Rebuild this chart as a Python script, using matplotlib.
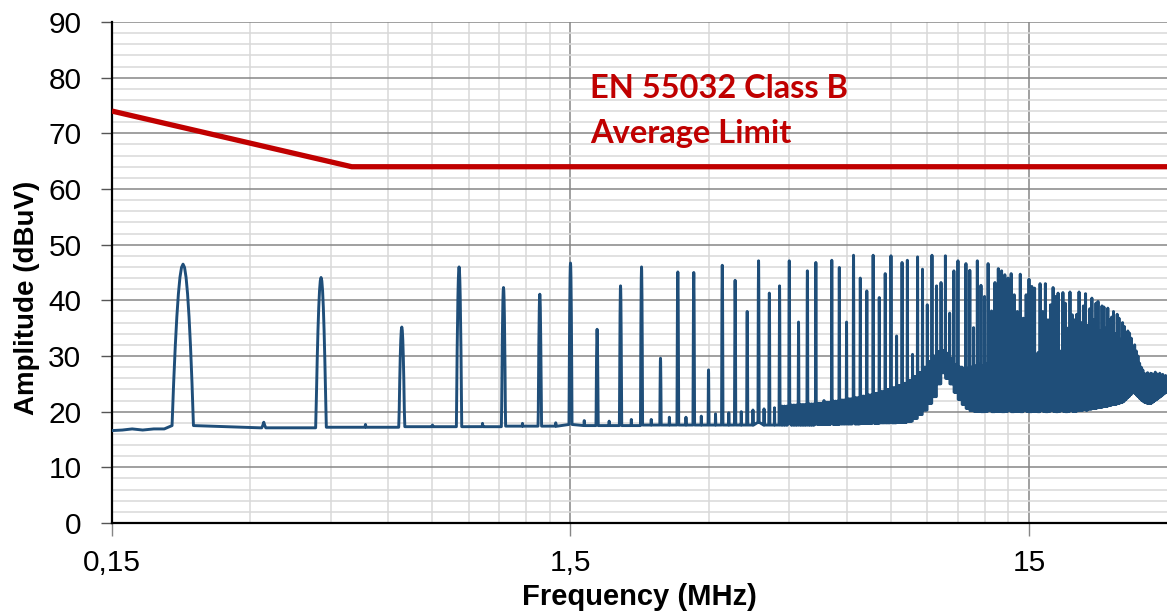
import numpy as np
import matplotlib
matplotlib.use("Agg")
import matplotlib.pyplot as plt
from matplotlib.ticker import FixedLocator, FixedFormatter, NullFormatter

# ---------------- data ----------------
fundamental_mhz = 0.2143          # harmonic spacing of the spectrum (MHz)

# peak amplitude of harmonic n = 1..140 (dBuV)
harmonic_amp = [
    46.5, 44.1, 35.2, 46.0, 42.3, 41.1, 46.7, 34.8, 42.6, 46.0,
    29.6, 45.1, 45.0, 27.5, 46.3, 43.6, 38.0, 47.1, 41.3, 42.6,
    47.1, 36.1, 45.3, 46.8, 22.0, 47.2, 45.9, 36.1, 48.1, 44.0,
    41.7, 48.1, 40.5, 44.8, 48.0, 33.6, 46.8, 47.2, 30.3, 47.8,
    45.6, 39.2, 48.1, 42.6, 43.2, 48.0, 37.7, 45.3, 47.1, 28.0,
    46.6, 45.4, 35.1, 47.1, 42.7, 40.7, 46.6, 38.1, 43.2, 45.7,
    45.3, 44.6, 44.0, 44.8, 41.0, 38.0, 44.7, 36.8, 41.0, 43.8,
    42.5, 42.2, 29.6, 43.0, 38.0, 43.0, 36.5, 39.2, 42.3, 40.7,
    41.3, 27.2, 41.4, 39.5, 35.0, 41.5, 37.4, 36.5, 37.5, 41.5,
    36.0, 39.0, 41.2, 35.5, 38.5, 40.4, 36.5, 39.5, 39.8, 34.5,
    39.0, 38.8, 35.0, 38.6, 36.5, 37.0, 38.0, 34.0, 37.5, 36.8,
    33.0, 36.0, 35.3, 32.5, 34.5, 34.1, 33.2, 31.5, 32.0, 30.9,
    30.0, 28.7, 28.0, 27.5, 26.5, 26.8, 27.0, 26.5, 26.9, 26.8,
    26.4, 27.1, 26.8, 26.5, 26.9, 26.4, 26.7, 26.3, 26.5, 26.0,
]

# level of the smaller lines between harmonic n and n+1 (dBuV)
interharmonic_amp = [
    18.1, 17.7, 17.6, 17.9, 17.9, 18.0, 18.4, 18.3, 18.6, 18.6,
    19.0, 19.0, 19.2, 19.6, 19.8, 20.0, 20.3, 20.5, 20.7, 21.0,
    21.2, 21.3, 21.4, 21.5, 21.7, 21.9, 22.1, 22.3, 22.5, 22.8,
    23.0, 23.3, 23.6, 24.0, 24.3, 24.7, 25.1, 25.6, 26.3, 27.0,
    28.0, 29.0, 30.0, 30.8, 31.0, 30.5, 29.5, 28.5, 28.0, 27.8,
    27.8, 28.0, 28.2, 28.5, 28.3, 28.6, 28.8, 28.5, 29.0, 29.2,
    29.0, 29.5, 29.3, 29.8, 30.0, 29.6, 30.2, 30.0, 30.4, 30.2,
    30.5, 30.3, 30.6, 30.4, 30.8, 30.5, 30.7, 30.9, 30.6, 30.8,
    30.6, 30.9, 30.7, 30.5, 30.8, 30.6, 30.4, 30.7, 30.5, 30.3,
    30.4, 30.2, 30.0, 30.1, 29.8, 29.9, 29.6, 29.7, 29.4, 29.5,
    29.2, 29.3, 29.0, 29.1, 28.8, 28.9, 28.6, 28.7, 28.4, 28.5,
    28.2, 28.3, 28.0, 28.0, 27.8, 27.8, 27.6, 27.5, 27.3, 27.2,
    27.0, 27.0, 26.8, 26.8, 26.6, 26.6, 26.5, 26.5, 26.4, 26.4,
    26.3, 26.3, 26.2, 26.2, 26.1, 26.1, 26.0, 26.0, 26.0, 26.0,
]

# noise floor between harmonic n and n+1 (dBuV)
floor_amp = [
    17.1, 17.2, 17.3, 17.3, 17.4, 17.4, 17.5, 17.5, 17.5, 17.6,
    17.6, 17.6, 17.6, 17.6, 17.6, 17.6, 17.6, 17.6, 17.6, 17.6,
    17.6, 17.6, 17.6, 17.7, 17.7, 17.7, 17.8, 17.8, 17.8, 17.9,
    17.9, 17.9, 18.0, 18.0, 18.0, 18.1, 18.1, 18.3, 18.8, 19.5,
    20.3, 21.5, 22.7, 25.0, 27.0, 26.0, 25.0, 23.5, 22.2, 21.3,
    20.6, 20.2, 20.1, 20.1, 20.0, 20.1, 20.2, 20.0, 20.1, 20.1,
    20.0, 20.1, 20.2, 20.0, 20.1, 20.1, 20.0, 20.2, 20.1, 20.0,
    20.1, 20.1, 20.0, 20.2, 20.1, 20.0, 20.1, 20.2, 20.1, 20.0,
    20.1, 20.2, 20.1, 20.0, 20.1, 20.2, 20.1, 20.1, 20.2, 20.3,
    20.3, 20.4, 20.3, 20.5, 20.5, 20.6, 20.6, 20.7, 20.8, 20.8,
    20.9, 21.0, 21.0, 21.1, 21.2, 21.3, 21.3, 21.4, 21.5, 21.6,
    21.7, 21.9, 22.2, 22.5, 22.8, 23.1, 23.5, 23.6, 23.3, 23.0,
    22.7, 22.4, 22.1, 21.9, 21.7, 21.6, 21.5, 21.5, 21.6, 21.8,
    22.0, 22.2, 22.4, 22.6, 22.8, 23.0, 23.2, 23.4, 23.5, 23.6,
]

# trace below the first harmonic
lead_freq = [0.150, 0.158, 0.166, 0.175, 0.185, 0.195]
lead_amp = [16.6, 16.7, 16.9, 16.7, 16.9, 16.9]

# EN 55032 Class B average limit
limit_freq = [0.15, 0.5, 30.0]
limit_amp = [74.0, 64.0, 64.0]

x_ticks = [0.15, 1.5, 15]
x_ticklabels = ["0,15", "1,5", "15"]
y_ticks = list(range(0, 91, 10))

# ---------------- build spectrum trace ----------------
PEAK_HALF = 0.0115            # MHz, half width of a line at ~29 dB down (RBW shape)
CURV = 29.0 / PEAK_HALF ** 2
shape = np.linspace(-PEAK_HALF, PEAK_HALF, 15)

fx, fy = list(lead_freq), list(lead_amp)
nh = len(harmonic_amp)
for i in range(nh):
    n = i + 1
    fn = n * fundamental_mhz
    left_floor = floor_amp[i - 1] if i > 0 else lead_amp[-1]
    right_floor = floor_amp[i]
    for d in shape:
        base = left_floor if d < 0 else right_floor
        fx.append(fn + d)
        fy.append(max(base, harmonic_amp[i] - CURV * d * d))
    # lines between harmonics
    subs = [0.5] if n < 20 else [0.25, 0.5, 0.75]
    for s in subs:
        fm = (n + s) * fundamental_mhz
        for d in shape:
            fx.append(fm + d)
            fy.append(max(right_floor, interharmonic_amp[i] - CURV * d * d))

fx = np.array(fx)
fy = np.array(fy)

# ---------------- plot ----------------
plt.rcParams["font.family"] = ["Liberation Sans", "DejaVu Sans"]
fig = plt.figure(figsize=(11.67, 6.12), dpi=100)
ax = fig.add_axes([112 / 1167, 1 - 523 / 612, 1 - 112 / 1167, (523 - 22) / 612])

ax.set_xscale("log")
ax.set_xlim(0.15, 30.0)
ax.set_ylim(0, 90)

# grid
minor_x = [k * d for d in (0.15, 1.5, 15) for k in range(2, 10) if k * d < 30.0]
ax.xaxis.set_major_locator(FixedLocator(x_ticks))
ax.xaxis.set_major_formatter(FixedFormatter(x_ticklabels))
ax.xaxis.set_minor_locator(FixedLocator(minor_x))
ax.xaxis.set_minor_formatter(NullFormatter())
ax.yaxis.set_major_locator(FixedLocator(y_ticks))
ax.yaxis.set_minor_locator(FixedLocator(list(range(0, 91, 2))))

ax.grid(which="minor", color="#d9d9d9", linewidth=1.1)
ax.grid(which="major", color="#868686", linewidth=1.1)
ax.set_axisbelow(True)

ax.tick_params(axis="x", which="major", direction="out", length=9, width=1.0,
               color="#868686", labelsize=21.5, pad=10)
ax.tick_params(axis="y", which="major", direction="out", length=8, width=1.0,
               color="#555555", labelsize=21.5, pad=14)
ax.tick_params(which="minor", length=0)

for s in ("top", "right"):
    ax.spines[s].set_visible(False)
for s in ("left", "bottom"):
    ax.spines[s].set_color("black")
    ax.spines[s].set_linewidth(1.6)

ax.plot(limit_freq, limit_amp, color="#c00000", linewidth=3.8,
        solid_capstyle="butt", zorder=3)
ax.plot(fx, fy, color="#1f4e79", linewidth=2.1, solid_joinstyle="round",
        zorder=4, clip_on=True)

ax.set_xlabel("Frequency (MHz)", fontsize=21, fontweight="bold", labelpad=4)
ax.set_ylabel("Amplitude (dBuV)", fontsize=20, fontweight="bold")
ax.yaxis.set_label_coords((40 - 112) / 1055, (523 - 298) / 501)

fig.text(590 / 1167, 1 - 98 / 612, "EN 55032 Class B", color="#c00000",
         fontsize=23.5, fontweight="bold", family="Lato", va="baseline", ha="left")
fig.text(590 / 1167, 1 - 143 / 612, "Average Limit", color="#c00000",
         fontsize=23.5, fontweight="bold", family="Lato", va="baseline", ha="left")

fig.savefig("out.png", dpi=100)
